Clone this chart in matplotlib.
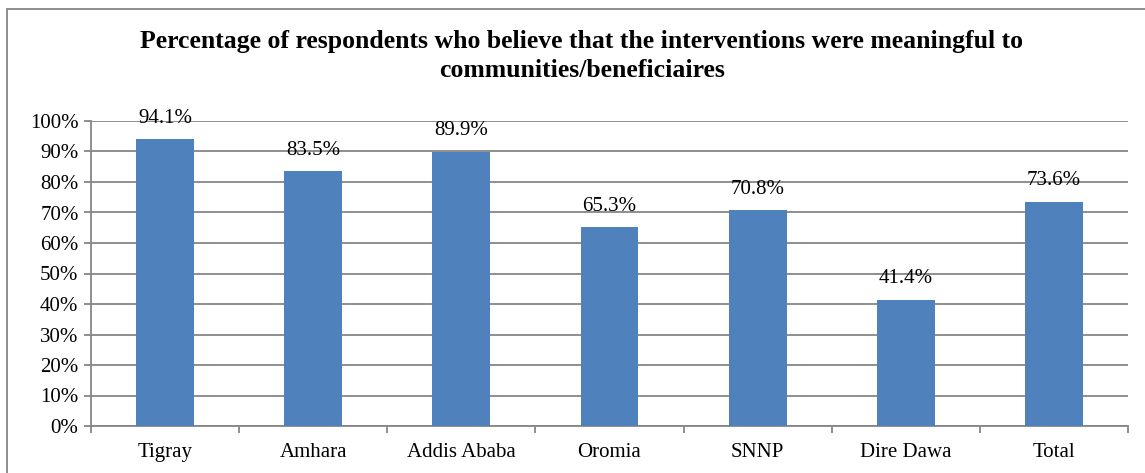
import matplotlib
matplotlib.use("Agg")
import matplotlib.pyplot as plt
from matplotlib.patches import Rectangle

categories = ["Tigray", "Amhara", "Addis Ababa", "Oromia", "SNNP", "Dire Dawa", "Total"]
values = [94.1, 83.5, 89.9, 65.3, 70.8, 41.4, 73.6]
yticks = [0, 10, 20, 30, 40, 50, 60, 70, 80, 90, 100]
title = "Percentage of respondents who believe that the interventions were meaningful to\ncommunities/beneficiaires"

plt.rcParams['font.family'] = ['Liberation Serif', 'DejaVu Serif']

fig = plt.figure(figsize=(11.45, 4.73), dpi=100)
ax = fig.add_axes([91/1145, 1 - 426/473, (1128 - 91)/1145, (426 - 121)/473])

grid_c = "#868686"
fs = 15
x = list(range(len(categories)))
ax.bar(x, values, width=0.39, color="#4F81BD", zorder=3)
for xi, v in zip(x, values):
    ax.annotate(f"{v:.1f}%", (xi, v), xytext=(0, 15), textcoords="offset points",
                ha="center", va="center", fontsize=fs, zorder=4)

ax.set_xlim(-0.5, len(categories) - 0.5)
ax.set_ylim(0, 100)
ax.set_yticks(yticks)
ax.set_yticklabels([f"{t}%" for t in yticks], fontsize=fs)
ax.set_xticks(x)
ax.set_xticklabels(categories, fontsize=fs)
ax.yaxis.grid(True, color=grid_c, linewidth=1.3, zorder=0)
ax.set_axisbelow(True)
for s in ["top", "right"]:
    ax.spines[s].set_visible(False)
for s in ["left", "bottom"]:
    ax.spines[s].set_color(grid_c)
    ax.spines[s].set_linewidth(1.3)
ax.tick_params(axis="y", length=5, color=grid_c, width=1.3, pad=4)
ax.tick_params(axis="x", length=0, pad=12)
ax.set_xticks([i - 0.5 for i in range(len(categories) + 1)], minor=True)
ax.tick_params(axis="x", which="minor", length=5, color=grid_c, width=1.3, direction="out")

fig.text(582/1145, 1 - 56/473, title, ha="center", va="center", fontsize=18.5,
         fontweight="bold", linespacing=1.3)

fig.patches.append(Rectangle((7/1145, -0.1), 1.2, 1 - 9/473 + 0.1,
                             transform=fig.transFigure, fill=False,
                             edgecolor="#868686", linewidth=1.3))

fig.savefig("out.png", dpi=100)
